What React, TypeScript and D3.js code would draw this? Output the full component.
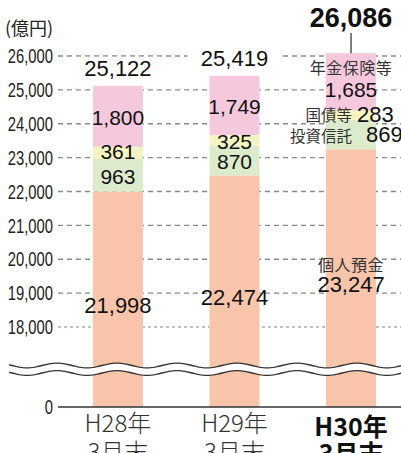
import React from 'react';
import * as d3 from 'd3';

// data (億円)
const categories = ['H28年', 'H29年', 'H30年'];
const subLabel = '3月末';
const kojinYokin = [21998, 22474, 23247];
const toshiShintaku = [963, 870, 869];
const kokusai = [361, 325, 283];
const nenkin = [1800, 1749, 1685];
const totals = [25122, 25419, 26086];
const seriesKeys = ['kojin', 'toshin', 'kokusai', 'nenkin'];
const seriesNames = ['個人預金', '投資信託', '国債等', '年金保険等'];
const seriesColors = ['#F8C4AA', '#DDEBCD', '#F5F5C3', '#F6C8DD'];
const yTicks = [0, 18000, 19000, 20000, 21000, 22000, 23000, 24000, 25000, 26000];

const W = 401;
const H = 453;
const NUM_FONT = '"Liberation Sans", Arial, sans-serif';
const JP_FONT = '"Noto Sans CJK JP", sans-serif';

const rows = categories.map((c, i) => ({
  cat: c,
  kojin: kojinYokin[i],
  toshin: toshiShintaku[i],
  kokusai: kokusai[i],
  nenkin: nenkin[i],
}));

const fmt = d3.format(',');

export default function App() {
  const x = d3.scaleBand()
    .domain(categories)
    .range([58, 411])
    .paddingInner(0.571)
    .paddingOuter(0.3);

  // broken axis: 0 at the baseline, 18,000..26,000 above the break
  const y = d3.scaleLinear()
    .domain([0, 18000, 26000])
    .range([407, 327, 56]);

  const stacked = d3.stack().keys(seriesKeys)(rows as any);

  const bw = x.bandwidth();
  const cx = (c: string) => (x(c) as number) + bw / 2;

  // wavy break band
  const wave = (base: number) => d3.range(9, W + 2, 2).map(px => [px, base + 2.4 * Math.cos((2 * Math.PI * (px - 27)) / 60)] as [number, number]);
  const line = d3.line();
  const topWave = wave(365.5);
  const botWave = wave(373);
  const band = line(topWave.concat(botWave.slice().reverse())) + 'Z';

  const last = categories.length - 1;

  return (
    <svg width={W} height={H} style={{ position: 'absolute', left: 0, top: 0, background: '#fff' }}>
      {/* unit */}
      <text x={5} y={35} fontFamily={JP_FONT} fontSize={18} fill="#222">(億円)</text>

      {/* grid + tick labels */}
      {yTicks.map(t => (
        <g key={t}>
          {t > 0 && (
            <line x1={58} x2={W} y1={y(t)} y2={y(t)}
              stroke={t === 18000 ? '#777' : '#8a8a8a'}
              strokeWidth={t === 18000 ? 0.9 : 1.3}
              strokeDasharray={t === 18000 ? '3,3' : '5,4'} />
          )}
          <text transform={`translate(53,${y(t)}) scale(0.74,1)`} textAnchor="end" dy="0.36em"
            fontFamily={NUM_FONT} fontSize={20} fill="#222">{fmt(t)}</text>
        </g>
      ))}

      {/* total label backgrounds (knock out grid) */}
      {categories.map((c, i) => i < last && (
        <rect key={c} x={cx(c) - 47} y={y(totals[i]) - 29} width={94} height={22} fill="#fff" />
      ))}

      {/* bars */}
      {stacked.map((s, si) => (
        <g key={s.key} fill={seriesColors[si]}>
          {s.map((d, i) => (
            <rect key={i} x={x(categories[i])} width={bw}
              y={y(d[1])} height={y(d[0]) - y(d[1])} />
          ))}
        </g>
      ))}

      {/* baseline */}
      <line x1={58} x2={W} y1={y(0)} y2={y(0)} stroke="#333" strokeWidth={1.5} />

      {/* break */}
      <path d={band} fill="#fff" />
      <path d={line(topWave) as string} fill="none" stroke="#333" strokeWidth={1.3} />
      <path d={line(botWave) as string} fill="none" stroke="#333" strokeWidth={1.3} />

      {/* totals */}
      {categories.map((c, i) => i < last ? (
        <text key={c} x={cx(c)} y={y(totals[i]) - 10} textAnchor="middle"
          fontFamily={NUM_FONT} fontSize={22} fill="#111">{fmt(totals[i])}</text>
      ) : (
        <g key={c}>
          <text x={cx(c)} y={27} textAnchor="middle" fontFamily={NUM_FONT}
            fontSize={27} fontWeight="bold" fill="#111">{fmt(totals[i])}</text>
          <line x1={cx(c)} x2={cx(c)} y1={33} y2={y(stacked[3][i][1])} stroke="#555" strokeWidth={1.5} />
        </g>
      ))}

      {/* segment values, first two bars */}
      {categories.map((c, i) => i < last && (
        <g key={c} fontFamily={NUM_FONT} fill="#111" textAnchor="middle">
          <text x={cx(c)} y={(y(stacked[0][i][1]) + 418) / 2 + 8} fontSize={22}>{fmt(kojinYokin[i])}</text>
          {[1, 2, 3].map(si => {
            const d = stacked[si][i];
            const mid = (y(d[0]) + y(d[1])) / 2;
            const v = d[1] - d[0];
            return (
              <text key={si} x={cx(c)} y={mid + (si === 2 && i === 0 ? 6 : 8.5)} fontSize={21}>{fmt(v)}</text>
            );
          })}
        </g>
      ))}

      {/* last bar with series names */}
      {(() => {
        const c = categories[last];
        const xc = cx(c);
        const nk = stacked[3][last];
        const kk = stacked[2][last];
        const ts = stacked[1][last];
        const kj = stacked[0][last];
        const kkMid = (y(kk[0]) + y(kk[1])) / 2;
        const tsMid = (y(ts[0]) + y(ts[1])) / 2;
        const kjBase = (y(kj[1]) + 418) / 2 + 8;
        return (
          <g>
            <text x={xc} y={y(nk[1]) + 21} textAnchor="middle" fontFamily={JP_FONT} fontSize={16} fill="#333" letterSpacing={0.5}>{seriesNames[3]}</text>
            <text x={xc} y={y(nk[0]) - 13} textAnchor="middle" fontFamily={NUM_FONT} fontSize={21} fill="#111">{fmt(nenkin[last])}</text>

            <text x={352} y={kkMid + 6} textAnchor="end" fontFamily={JP_FONT} fontSize={15.5} fill="#333">{seriesNames[2]}</text>
            <text x={357} y={kkMid + 6.5} fontFamily={NUM_FONT} fontSize={22} fill="#111">{fmt(kokusai[last])}</text>

            <text x={352} y={tsMid + 7} textAnchor="end" fontFamily={JP_FONT} fontSize={15.5} fill="#333">{seriesNames[1]}</text>
            <text x={366} y={tsMid + 7} fontFamily={NUM_FONT} fontSize={22} fill="#111">{fmt(toshiShintaku[last])}</text>

            <text x={xc} y={kjBase - 21} textAnchor="middle" fontFamily={JP_FONT} fontSize={16} fill="#333" letterSpacing={0.5}>{seriesNames[0]}</text>
            <text x={xc} y={kjBase} textAnchor="middle" fontFamily={NUM_FONT} fontSize={22} fill="#111">{fmt(kojinYokin[last])}</text>
          </g>
        );
      })()}

      {/* x labels */}
      {categories.map((c, i) => (
        <g key={c} fontFamily={JP_FONT} textAnchor="middle"
          fontWeight={i === last ? 'bold' : 300} fill={i === last ? '#111' : '#333'}>
          <text x={cx(c)} y={i === last ? 436 : 432} fontSize={i === last ? 25 : 24}>{c}</text>
          <text x={cx(c)} y={i === last ? 463 : 461} fontSize={i === last ? 25 : 24}>{subLabel}</text>
        </g>
      ))}
    </svg>
  );
}
